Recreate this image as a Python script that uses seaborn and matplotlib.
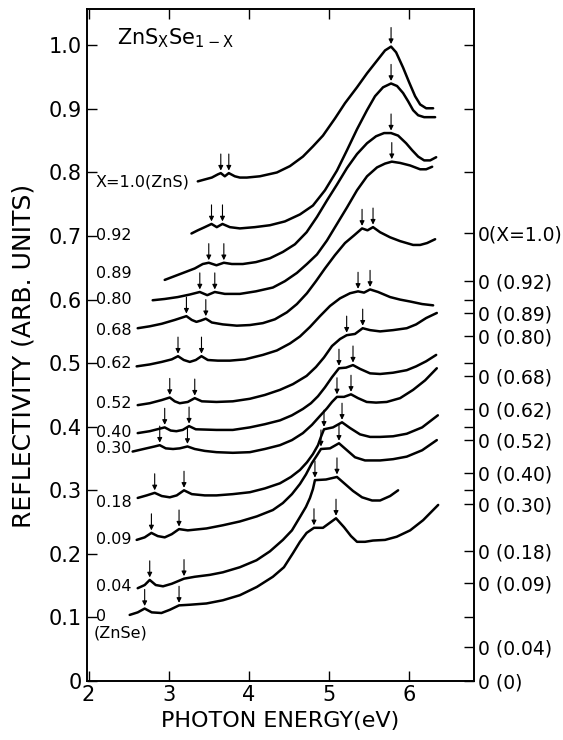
import numpy as np
import matplotlib
matplotlib.use("Agg")
import matplotlib.pyplot as plt
import seaborn as sns

# photon energy (eV) / reflectivity (arb. units)
e_100 = [3.363, 3.45, 3.538, 3.613, 3.65, 3.70, 3.75, 3.825, 3.888, 3.975, 4.138, 4.35, 4.513, 4.675, 4.80,
         4.925, 5.075, 5.20, 5.35, 5.475, 5.60, 5.70, 5.775, 5.838, 5.925, 6.00, 6.075, 6.138, 6.213, 6.30]
r_100 = [0.786, 0.789, 0.792, 0.797, 0.799, 0.794, 0.799, 0.794, 0.792, 0.792, 0.794, 0.800, 0.810, 0.825, 0.841,
         0.858, 0.885, 0.909, 0.934, 0.956, 0.976, 0.992, 0.998, 0.989, 0.965, 0.942, 0.920, 0.907, 0.901, 0.901]

e_092 = [3.284, 3.363, 3.45, 3.534, 3.60, 3.671, 3.763, 3.888, 4.075, 4.263, 4.45, 4.638, 4.80, 4.95,
         5.10, 5.225, 5.35, 5.475, 5.575, 5.675, 5.775, 5.85, 5.925, 5.988, 6.05, 6.113, 6.188, 6.325]
r_092 = [0.704, 0.709, 0.714, 0.719, 0.714, 0.719, 0.714, 0.712, 0.714, 0.717, 0.723, 0.734, 0.748, 0.772,
         0.803, 0.835, 0.868, 0.898, 0.920, 0.934, 0.940, 0.936, 0.925, 0.912, 0.898, 0.890, 0.887, 0.887]

e_089 = [2.95, 3.075, 3.20, 3.325, 3.425, 3.50, 3.596, 3.688, 3.788, 3.925, 4.088, 4.263, 4.425, 4.575, 4.721, 4.85,
         4.975, 5.10, 5.225, 5.35, 5.475, 5.588, 5.688, 5.775, 5.863, 5.963, 6.038, 6.113, 6.188, 6.263, 6.338]
r_089 = [0.631, 0.637, 0.643, 0.649, 0.656, 0.658, 0.654, 0.658, 0.656, 0.656, 0.659, 0.665, 0.675, 0.687, 0.706, 0.730,
         0.756, 0.781, 0.807, 0.829, 0.846, 0.857, 0.862, 0.862, 0.858, 0.846, 0.835, 0.825, 0.819, 0.819, 0.824]

e_080 = [2.80, 2.95, 3.113, 3.263, 3.388, 3.481, 3.575, 3.70, 3.888, 4.088, 4.30, 4.45, 4.60, 4.725,
         4.85, 4.975, 5.10, 5.225, 5.35, 5.475, 5.60, 5.70, 5.784, 5.888, 6.013, 6.138, 6.213, 6.288]
r_080 = [0.599, 0.601, 0.604, 0.608, 0.612, 0.607, 0.612, 0.609, 0.609, 0.613, 0.619, 0.629, 0.642, 0.656,
         0.671, 0.693, 0.719, 0.745, 0.772, 0.794, 0.808, 0.814, 0.817, 0.815, 0.811, 0.805, 0.805, 0.809]

e_068 = [2.613, 2.763, 2.913, 3.075, 3.221, 3.288, 3.346, 3.40, 3.463, 3.538, 3.675, 3.85, 4.013, 4.175, 4.325,
         4.475, 4.60, 4.725, 4.838, 4.95, 5.075, 5.20, 5.313, 5.413, 5.481, 5.55, 5.638, 5.763, 5.888, 6.05,
         6.138, 6.225, 6.325]
r_068 = [0.555, 0.558, 0.562, 0.568, 0.574, 0.568, 0.565, 0.567, 0.570, 0.564, 0.561, 0.559, 0.560, 0.563, 0.569,
         0.580, 0.593, 0.610, 0.629, 0.649, 0.670, 0.689, 0.701, 0.712, 0.709, 0.714, 0.706, 0.698, 0.692, 0.686,
         0.686, 0.689, 0.695]

e_062 = [2.60, 2.763, 2.913, 3.038, 3.116, 3.188, 3.263, 3.338, 3.409, 3.488, 3.613, 3.763, 3.95, 4.175, 4.35,
         4.513, 4.638, 4.763, 4.888, 5.013, 5.138, 5.263, 5.363, 5.438, 5.513, 5.613, 5.763, 5.888, 6.013, 6.163, 6.30]
r_062 = [0.495, 0.498, 0.502, 0.506, 0.511, 0.505, 0.502, 0.505, 0.511, 0.505, 0.504, 0.504, 0.506, 0.513, 0.520,
         0.531, 0.542, 0.557, 0.574, 0.590, 0.602, 0.610, 0.613, 0.611, 0.616, 0.612, 0.604, 0.600, 0.597, 0.593, 0.591]

e_052 = [2.613, 2.763, 2.913, 3.013, 3.075, 3.138, 3.238, 3.325, 3.413, 3.596, 3.80, 4.013, 4.20, 4.388, 4.55,
         4.721, 4.838, 4.938, 5.038, 5.138, 5.221, 5.325, 5.421, 5.513, 5.638, 5.80, 5.971, 6.088, 6.213, 6.346]
r_052 = [0.434, 0.437, 0.442, 0.446, 0.440, 0.437, 0.439, 0.445, 0.440, 0.439, 0.440, 0.444, 0.450, 0.458, 0.467,
         0.480, 0.494, 0.509, 0.527, 0.538, 0.544, 0.546, 0.555, 0.552, 0.550, 0.552, 0.555, 0.561, 0.571, 0.579]

e_040 = [2.613, 2.763, 2.888, 2.95, 3.025, 3.096, 3.175, 3.254, 3.338, 3.596, 3.80, 4.013, 4.20, 4.388, 4.538, 4.675,
         4.775, 4.863, 4.95, 5.038, 5.125, 5.213, 5.30, 5.388, 5.513, 5.638, 5.80, 5.971, 6.088, 6.213, 6.338]
r_040 = [0.390, 0.393, 0.397, 0.399, 0.394, 0.393, 0.395, 0.401, 0.396, 0.395, 0.395, 0.399, 0.404, 0.410, 0.418, 0.428,
         0.437, 0.448, 0.462, 0.478, 0.492, 0.493, 0.497, 0.491, 0.484, 0.483, 0.485, 0.489, 0.495, 0.503, 0.513]

e_030 = [2.55, 2.721, 2.825, 2.888, 2.963, 3.054, 3.138, 3.234, 3.325, 3.45, 3.596, 3.80, 4.013, 4.20, 4.388, 4.538,
         4.675, 4.788, 4.888, 4.975, 5.038, 5.10, 5.188, 5.275, 5.363, 5.471, 5.588, 5.721, 5.888, 6.05, 6.20, 6.346]
r_030 = [0.361, 0.366, 0.369, 0.371, 0.366, 0.365, 0.366, 0.369, 0.365, 0.362, 0.360, 0.359, 0.360, 0.365, 0.371, 0.379,
         0.390, 0.403, 0.417, 0.429, 0.439, 0.447, 0.447, 0.451, 0.445, 0.439, 0.438, 0.439, 0.445, 0.458, 0.473, 0.492]

e_018 = [2.613, 2.725, 2.825, 2.913, 3.013, 3.10, 3.191, 3.288, 3.45, 3.596, 3.80, 4.013, 4.20, 4.388, 4.525, 4.638,
         4.725, 4.80, 4.863, 4.90, 4.938, 5.05, 5.163, 5.263, 5.388, 5.513, 5.638, 5.80, 5.971, 6.163, 6.359]
r_018 = [0.288, 0.292, 0.296, 0.291, 0.289, 0.292, 0.300, 0.294, 0.292, 0.292, 0.294, 0.297, 0.303, 0.311, 0.321, 0.332,
         0.344, 0.357, 0.371, 0.384, 0.396, 0.399, 0.407, 0.398, 0.388, 0.384, 0.384, 0.385, 0.389, 0.399, 0.418]

e_009 = [2.60, 2.70, 2.784, 2.863, 2.95, 3.038, 3.129, 3.238, 3.471, 3.675, 3.888, 4.10, 4.30, 4.425, 4.538,
         4.638, 4.713, 4.788, 4.85, 4.90, 5.013, 5.125, 5.225, 5.325, 5.45, 5.638, 5.80, 5.971, 6.163, 6.346]
r_009 = [0.222, 0.226, 0.233, 0.228, 0.226, 0.231, 0.239, 0.237, 0.240, 0.245, 0.251, 0.259, 0.269, 0.280, 0.294,
         0.310, 0.325, 0.343, 0.355, 0.365, 0.366, 0.374, 0.363, 0.352, 0.347, 0.347, 0.349, 0.353, 0.363, 0.379]

e_004 = [2.613, 2.70, 2.763, 2.838, 2.929, 3.038, 3.191, 3.325, 3.513, 3.675, 3.888, 4.096, 4.263, 4.425, 4.538,
         4.638, 4.713, 4.763, 4.80, 4.825, 4.963, 5.10, 5.20, 5.30, 5.413, 5.538, 5.638, 5.763, 5.863]
r_004 = [0.146, 0.151, 0.159, 0.151, 0.149, 0.153, 0.161, 0.164, 0.167, 0.171, 0.179, 0.190, 0.204, 0.222, 0.237,
         0.258, 0.274, 0.288, 0.302, 0.316, 0.317, 0.321, 0.310, 0.299, 0.289, 0.284, 0.284, 0.291, 0.300]

e_000 = [2.513, 2.613, 2.70, 2.788, 2.909, 3.013, 3.129, 3.263, 3.471, 3.675, 3.888, 4.10, 4.30, 4.438, 4.55,
         4.638, 4.721, 4.813, 4.925, 5.088, 5.188, 5.275, 5.35, 5.45, 5.55, 5.70, 5.846, 6.013, 6.175, 6.363]
r_000 = [0.104, 0.108, 0.114, 0.108, 0.107, 0.112, 0.119, 0.120, 0.122, 0.127, 0.135, 0.148, 0.164, 0.179, 0.201,
         0.219, 0.233, 0.241, 0.241, 0.256, 0.242, 0.228, 0.219, 0.219, 0.221, 0.222, 0.227, 0.237, 0.253, 0.277]

curves_e = [e_100, e_092, e_089, e_080, e_068, e_062, e_052, e_040, e_030, e_018, e_009, e_004, e_000]
curves_r = [r_100, r_092, r_089, r_080, r_068, r_062, r_052, r_040, r_030, r_018, r_009, r_004, r_000]

# energies marked with arrows on each trace
arrows_e = [
    [3.65, 3.75, 5.775],
    [3.534, 3.671, 5.775],
    [3.50, 3.688, 5.775],
    [3.388, 3.575, 5.784],
    [3.221, 3.463, 5.413, 5.55],
    [3.116, 3.409, 5.363, 5.513],
    [3.013, 3.325, 5.221, 5.421],
    [2.95, 3.254, 5.125, 5.30],
    [2.888, 3.234, 5.10, 5.275],
    [2.825, 3.191, 4.938, 5.163],
    [2.784, 3.129, 4.90, 5.125],
    [2.763, 3.191, 4.825, 5.10],
    [2.70, 3.129, 4.813, 5.088],
]

# composition labels on the left, with their heights
left_labels = ["X=1.0(ZnS)", "0.92", "0.89", "0.80", "0.68", "0.62", "0.52",
               "0.40", "0.30", "0.18", "0.09", "0.04", "0"]
left_label_r = [0.785, 0.701, 0.6415, 0.600, 0.552, 0.500, 0.437,
                0.3915, 0.3665, 0.281, 0.222, 0.148, 0.101]

# zero level of each trace (right axis)
zero_levels = [0.704, 0.629, 0.579, 0.542, 0.480, 0.428, 0.379,
               0.327, 0.278, 0.205, 0.154, 0.053, 0.0]
right_labels = ["0(X=1.0)", "0 (0.92)", "0 (0.89)", "0 (0.80)", "0 (0.68)", "0 (0.62)",
                "0 (0.52)", "0 (0.40)", "0 (0.30)", "0 (0.18)", "0 (0.09)", "0 (0.04)", "0 (0)"]

x_ticks = [2, 3, 4, 5, 6]
y_ticks = [0, 0.1, 0.2, 0.3, 0.4, 0.5, 0.6, 0.7, 0.8, 0.9, 1.0]
y_tick_labels = ["0", "0.1", "0.2", "0.3", "0.4", "0.5", "0.6", "0.7", "0.8", "0.9", "1.0"]

sns.set_style("ticks")
plt.rcParams["font.family"] = ["DejaVu Sans"]
for key in ["text.color", "axes.labelcolor", "xtick.color", "ytick.color", "axes.edgecolor"]:
    plt.rcParams[key] = "black"
plt.rcParams["axes.linewidth"] = 1.2

fig = plt.figure(figsize=(5.63, 7.40), dpi=100)
ax = fig.add_axes([0.1545, 0.0797, 0.6874, 0.908])

for e, r, arr in zip(curves_e, curves_r, arrows_e):
    sns.lineplot(x=e, y=r, sort=False, color="black", linewidth=1.8, ax=ax, estimator=None)
    for ea in arr:
        ra = np.interp(ea, e, r)
        ax.annotate("", xy=(ea, ra + 0.004), xytext=(ea, ra + 0.03),
                    arrowprops=dict(arrowstyle="-|>", color="black", lw=0.8,
                                    mutation_scale=7, shrinkA=0, shrinkB=0))

for lab, yr in zip(left_labels, left_label_r):
    ax.text(2.09, yr, lab, ha="left", va="center", fontsize=11.5)
ax.text(2.06, 0.0755, "(ZnSe)", ha="left", va="center", fontsize=11.5)

ax.text(2.35, 1.011, r"ZnS$_{\mathregular{X}}$Se$_{\mathregular{1-X}}$",
        ha="left", va="center", fontsize=15)

ax.set_xlim(1.98, 6.81)
ax.set_ylim(0, 1.057)
ax.set_xticks(x_ticks)
ax.set_yticks(y_ticks, labels=y_tick_labels)
ax.tick_params(axis="both", direction="in", length=7, width=1, labelsize=15, pad=4)
ax.tick_params(axis="x", top=True, pad=3)
ax.set_xlabel("")
ax.set_ylabel("")

ax2 = ax.twinx()
ax2.set_ylim(ax.get_ylim())
ax2.set_yticks(zero_levels, labels=right_labels)
minor_r = [t for t in y_ticks if min(abs(t - z) for z in zero_levels) > 0.01]
ax2.set_yticks(minor_r, minor=True)
ax2.tick_params(axis="y", which="both", direction="in", length=7, width=1, labelsize=13.5, pad=3)

fig.text(280 / 563, 1 - 721 / 740, "PHOTON ENERGY(eV)", ha="center", va="center", fontsize=16)
fig.text(24 / 563, 1 - 356 / 740, "REFLECTIVITY (ARB. UNITS)", ha="center", va="center",
         rotation=90, fontsize=18)

fig.savefig("out.png", dpi=100)
